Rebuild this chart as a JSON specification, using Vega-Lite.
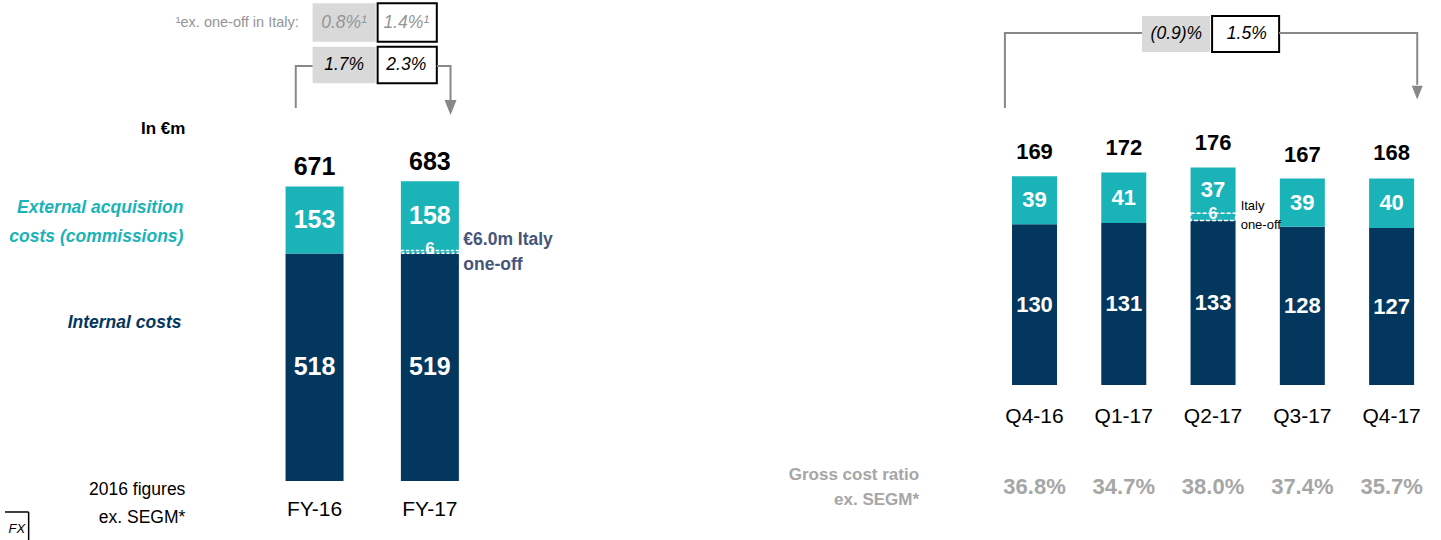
{
  "$schema": "https://vega.github.io/schema/vega-lite/v6.json",
  "padding": 0,
  "spacing": 0,
  "bounds": "flush",
  "background": "white",
  "config": {"view": {"stroke": null}, "font": "Liberation Sans"},
  "datasets": {
    "lbars": [
      {"cat": "FY-16", "u": 1, "seg": "Internal costs", "rank": 1, "value": 518},
      {"cat": "FY-16", "u": 1, "seg": "External acquisition costs", "rank": 3, "value": 153},
      {"cat": "FY-17", "u": 2, "seg": "Internal costs", "rank": 1, "value": 519},
      {"cat": "FY-17", "u": 2, "seg": "Italy one-off", "rank": 2, "value": 6},
      {"cat": "FY-17", "u": 2, "seg": "External acquisition costs", "rank": 3, "value": 158}
    ],
    "ltot": [
      {"cat": "FY-16", "u": 1, "total": 671},
      {"cat": "FY-17", "u": 2, "total": 683}
    ],
    "rbars": [
      {"cat": "Q4-16", "u": 1, "seg": "Internal costs", "rank": 1, "value": 130},
      {"cat": "Q4-16", "u": 1, "seg": "External acquisition costs", "rank": 3, "value": 39},
      {"cat": "Q1-17", "u": 2, "seg": "Internal costs", "rank": 1, "value": 131},
      {"cat": "Q1-17", "u": 2, "seg": "External acquisition costs", "rank": 3, "value": 41},
      {"cat": "Q2-17", "u": 3, "seg": "Internal costs", "rank": 1, "value": 133},
      {"cat": "Q2-17", "u": 3, "seg": "Italy one-off", "rank": 2, "value": 6},
      {"cat": "Q2-17", "u": 3, "seg": "External acquisition costs", "rank": 3, "value": 37},
      {"cat": "Q3-17", "u": 4, "seg": "Internal costs", "rank": 1, "value": 128},
      {"cat": "Q3-17", "u": 4, "seg": "External acquisition costs", "rank": 3, "value": 39},
      {"cat": "Q4-17", "u": 5, "seg": "Internal costs", "rank": 1, "value": 127},
      {"cat": "Q4-17", "u": 5, "seg": "External acquisition costs", "rank": 3, "value": 40}
    ],
    "rtot": [
      {"cat": "Q4-16", "u": 1, "total": 169, "ratio": "36.8%"},
      {"cat": "Q1-17", "u": 2, "total": 172, "ratio": "34.7%"},
      {"cat": "Q2-17", "u": 3, "total": 176, "ratio": "38.0%"},
      {"cat": "Q3-17", "u": 4, "total": 167, "ratio": "37.4%"},
      {"cat": "Q4-17", "u": 5, "total": 168, "ratio": "35.7%"}
    ]
  },
  "hconcat": [
    {
      "width": 702,
      "height": 540,
      "encoding": {
        "x": {"field": "u", "type": "quantitative", "scale": {"domain": [-1.684, 4.316], "nice": false, "zero": false}, "axis": null},
        "y": {"field": "v", "type": "quantitative", "scale": {"domain": [-134.4, 1095.7], "nice": false, "zero": false}, "axis": null}
      },
      "layer": [
        {
          "data": {"name": "lbars"},
          "transform": [{"stack": "value", "groupby": ["cat"], "sort": [{"field": "rank", "order": "ascending"}], "as": ["v", "v_end"]}],
          "mark": {"type": "bar", "width": 58},
          "encoding": {
            "y2": {"field": "v_end"},
            "color": {"field": "seg", "type": "nominal", "scale": {"domain": ["Internal costs", "Italy one-off", "External acquisition costs"], "range": ["#03375E", "#1AB3B8", "#1AB3B8"]}, "legend": null}
          }
        },
        {
          "data": {"name": "lbars"},
          "transform": [
            {"stack": "value", "groupby": ["cat"], "sort": [{"field": "rank", "order": "ascending"}], "as": ["v0", "v1"]},
            {"filter": "datum.seg !== 'Italy one-off'"},
            {"calculate": "(datum.v0 + datum.v1) / 2", "as": "v"}
          ],
          "mark": {"type": "text", "color": "white", "fontWeight": "bold", "fontSize": 25},
          "encoding": {"text": {"field": "value"}}
        },
        {
          "data": {"name": "lbars"},
          "transform": [
            {"stack": "value", "groupby": ["cat"], "sort": [{"field": "rank", "order": "ascending"}], "as": ["v0", "v1"]},
            {"filter": "datum.seg === 'Italy one-off'"},
            {"calculate": "(datum.v0 + datum.v1) / 2", "as": "v"}
          ],
          "mark": {"type": "text", "color": "white", "fontWeight": "bold", "fontSize": 17, "dy": -3},
          "encoding": {"text": {"field": "value"}}
        },
        {
          "data": {"name": "lbars"},
          "transform": [
            {"stack": "value", "groupby": ["cat"], "sort": [{"field": "rank", "order": "ascending"}], "as": ["v", "v_end"]},
            {"filter": "datum.seg === 'Italy one-off'"}
          ],
          "mark": {"type": "bar", "width": 58, "filled": false, "stroke": "white", "strokeWidth": 1.5, "strokeDash": [3, 2]},
          "encoding": {"y2": {"field": "v_end"}}
        },
        {
          "data": {"name": "ltot"},
          "mark": {"type": "text", "color": "black", "fontWeight": "bold", "fontSize": 25, "baseline": "alphabetic", "dy": -11},
          "encoding": {
            "y": {"field": "total", "type": "quantitative", "scale": {"domain": [-134.4, 1095.7], "nice": false, "zero": false}, "axis": null},
            "text": {"field": "total"}
          }
        },
        {
          "data": {"name": "lbars"},
          "transform": [
            {"stack": "value", "groupby": ["cat"], "sort": [{"field": "rank", "order": "ascending"}], "as": ["v", "v_end"]},
            {"filter": "datum.rank === 1"}
          ],
          "mark": {"type": "text", "color": "black", "fontSize": 21, "dy": 29},
          "encoding": {"text": {"field": "cat"}}
        },
        {
          "data": {"values": [{"u": -0.12, "v": 801.8, "label": "In €m"}]},
          "mark": {"type": "text", "align": "right", "fontWeight": "bold", "fontSize": 17, "color": "black"},
          "encoding": {"text": {"field": "label"}}
        },
        {
          "data": {"values": [{"u": -0.137, "v": 621.9, "label": "External acquisition\ncosts (commissions)"}]},
          "mark": {"type": "text", "align": "right", "fontWeight": "bold", "fontStyle": "italic", "fontSize": 17.5, "color": "#1AB3B8", "lineBreak": "\n", "lineHeight": 29},
          "encoding": {"text": {"field": "label"}}
        },
        {
          "data": {"values": [{"u": -0.154, "v": 359.9, "label": "Internal costs"}]},
          "mark": {"type": "text", "align": "right", "fontWeight": "bold", "fontStyle": "italic", "fontSize": 17.5, "color": "#03375E"},
          "encoding": {"text": {"field": "label"}}
        },
        {
          "data": {"values": [{"u": -0.12, "v": -20.5, "label": "2016 figures\nex. SEGM*"}]},
          "mark": {"type": "text", "align": "right", "fontSize": 17.5, "color": "black", "lineBreak": "\n", "lineHeight": 28},
          "encoding": {"text": {"field": "label"}}
        },
        {
          "data": {"values": [{"u": 2.29, "v": 549.0, "label": "€6.0m Italy\none-off"}]},
          "mark": {"type": "text", "align": "left", "fontWeight": "bold", "fontSize": 17.5, "color": "#46557A", "lineBreak": "\n", "lineHeight": 25},
          "encoding": {"text": {"field": "label"}}
        },
        {
          "data": {"values": [
            {"u": 0.983, "u2": 1.53, "v": 1000.7, "v2": 1088.2},
            {"u": 0.983, "u2": 1.53, "v": 905.9, "v2": 989.3}
          ]},
          "mark": {"type": "rect", "color": "#D9D9D9"},
          "encoding": {"x2": {"field": "u2"}, "y2": {"field": "v2"}}
        },
        {
          "data": {"values": [
            {"u": 1.547, "u2": 2.06, "v": 1000.7, "v2": 1088.2},
            {"u": 1.547, "u2": 2.06, "v": 905.9, "v2": 989.3}
          ]},
          "mark": {"type": "rect", "fill": "white", "stroke": "black", "strokeWidth": 2},
          "encoding": {"x2": {"field": "u2"}, "y2": {"field": "v2"}}
        },
        {
          "data": {"values": [
            {"u": 1.256, "v": 1044.4, "label": "0.8%¹"},
            {"u": 1.795, "v": 1044.4, "label": "1.4%¹"}
          ]},
          "mark": {"type": "text", "fontStyle": "italic", "fontSize": 17.5, "color": "#959595"},
          "encoding": {"text": {"field": "label"}}
        },
        {
          "data": {"values": [{"u": 0.863, "v": 1044.4, "label": "¹ex. one-off in Italy:"}]},
          "mark": {"type": "text", "align": "right", "fontSize": 14.5, "color": "#959595"},
          "encoding": {"text": {"field": "label"}}
        },
        {
          "data": {"values": [
            {"u": 1.256, "v": 947.6, "label": "1.7%"},
            {"u": 1.795, "v": 947.6, "label": "2.3%"}
          ]},
          "mark": {"type": "text", "fontStyle": "italic", "fontSize": 17.5, "color": "black"},
          "encoding": {"text": {"field": "label"}}
        },
        {
          "data": {"values": [
            {"g": "a", "o": 1, "u": 0.837, "v": 849.7},
            {"g": "a", "o": 2, "u": 0.837, "v": 945.3},
            {"g": "a", "o": 3, "u": 0.983, "v": 945.3},
            {"g": "b", "o": 1, "u": 2.06, "v": 945.3},
            {"g": "b", "o": 2, "u": 2.179, "v": 945.3},
            {"g": "b", "o": 3, "u": 2.179, "v": 862}
          ]},
          "mark": {"type": "line", "color": "#888888", "strokeWidth": 2},
          "encoding": {"detail": {"field": "g"}, "order": {"field": "o"}}
        },
        {
          "data": {"values": [{"u": 2.179, "v": 850.8}]},
          "mark": {"type": "point", "shape": "M-1,-1.25L1,-1.25L0,1.25Z", "filled": true, "color": "#888888", "size": 144, "opacity": 1}
        },
        {
          "data": {"values": [
            {"u": -1.684, "u2": -1.479, "v": -70.6, "v2": -70.6},
            {"u": -1.479, "u2": -1.479, "v": -70.6, "v2": -134.4}
          ]},
          "mark": {"type": "rule", "color": "black", "strokeWidth": 1.5},
          "encoding": {"x2": {"field": "u2"}, "y2": {"field": "v2"}}
        },
        {
          "data": {"values": [{"u": -1.581, "v": -109.3, "label": "FX"}]},
          "mark": {"type": "text", "fontStyle": "italic", "fontSize": 13, "color": "black"},
          "encoding": {"text": {"field": "label"}}
        }
      ]
    },
    {
      "width": 739,
      "height": 540,
      "encoding": {
        "x": {"field": "u", "type": "quantitative", "scale": {"domain": [-2.6685, 5.4972], "nice": false, "zero": false}, "axis": null},
        "y": {"field": "v", "type": "quantitative", "scale": {"domain": [-125.4, 311.5], "nice": false, "zero": false}, "axis": null}
      },
      "layer": [
        {
          "data": {"name": "rbars"},
          "transform": [{"stack": "value", "groupby": ["cat"], "sort": [{"field": "rank", "order": "ascending"}], "as": ["v", "v_end"]}],
          "mark": {"type": "bar", "width": 45},
          "encoding": {
            "y2": {"field": "v_end"},
            "color": {"field": "seg", "type": "nominal", "scale": {"domain": ["Internal costs", "Italy one-off", "External acquisition costs"], "range": ["#03375E", "#1AB3B8", "#1AB3B8"]}, "legend": null}
          }
        },
        {
          "data": {"name": "rbars"},
          "transform": [
            {"stack": "value", "groupby": ["cat"], "sort": [{"field": "rank", "order": "ascending"}], "as": ["v0", "v1"]},
            {"filter": "datum.seg !== 'Italy one-off'"},
            {"calculate": "(datum.v0 + datum.v1) / 2", "as": "v"}
          ],
          "mark": {"type": "text", "color": "white", "fontWeight": "bold", "fontSize": 22},
          "encoding": {"text": {"field": "value"}}
        },
        {
          "data": {"name": "rbars"},
          "transform": [
            {"stack": "value", "groupby": ["cat"], "sort": [{"field": "rank", "order": "ascending"}], "as": ["v0", "v1"]},
            {"filter": "datum.seg === 'Italy one-off'"},
            {"calculate": "(datum.v0 + datum.v1) / 2", "as": "v"}
          ],
          "mark": {"type": "text", "color": "white", "fontWeight": "bold", "fontSize": 16, "dy": -3},
          "encoding": {"text": {"field": "value"}}
        },
        {
          "data": {"name": "rbars"},
          "transform": [
            {"stack": "value", "groupby": ["cat"], "sort": [{"field": "rank", "order": "ascending"}], "as": ["v", "v_end"]},
            {"filter": "datum.seg === 'Italy one-off'"}
          ],
          "mark": {"type": "bar", "width": 45, "filled": false, "stroke": "white", "strokeWidth": 1.5, "strokeDash": [4, 2]},
          "encoding": {"y2": {"field": "v_end"}}
        },
        {
          "data": {"name": "rtot"},
          "mark": {"type": "text", "color": "black", "fontWeight": "bold", "fontSize": 22, "baseline": "alphabetic", "dy": -17},
          "encoding": {
            "y": {"field": "total", "type": "quantitative", "scale": {"domain": [-125.4, 311.5], "nice": false, "zero": false}, "axis": null},
            "text": {"field": "total"}
          }
        },
        {
          "data": {"name": "rbars"},
          "transform": [
            {"stack": "value", "groupby": ["cat"], "sort": [{"field": "rank", "order": "ascending"}], "as": ["v", "v_end"]},
            {"filter": "datum.rank === 1"}
          ],
          "mark": {"type": "text", "color": "black", "fontSize": 21, "dy": 32},
          "encoding": {"text": {"field": "cat"}}
        },
        {
          "data": {"name": "rbars"},
          "transform": [
            {"stack": "value", "groupby": ["cat"], "sort": [{"field": "rank", "order": "ascending"}], "as": ["v", "v_end"]},
            {"filter": "datum.rank === 1"},
            {"lookup": "cat", "from": {"data": {"name": "rtot"}, "key": "cat", "fields": ["ratio"]}}
          ],
          "mark": {"type": "text", "color": "#A6A6A6", "fontWeight": "bold", "fontSize": 22, "dy": 102},
          "encoding": {"text": {"field": "ratio"}}
        },
        {
          "data": {"values": [{"u": -0.293, "v": -72.8, "label": "Gross cost ratio\nex. SEGM*"}]},
          "mark": {"type": "text", "align": "right", "fontWeight": "bold", "fontSize": 17, "color": "#A6A6A6", "lineBreak": "\n", "lineHeight": 25},
          "encoding": {"text": {"field": "label"}}
        },
        {
          "data": {"values": [{"u": 3.309, "v": 144.8, "label": "Italy\none-off"}]},
          "mark": {"type": "text", "align": "left", "fontSize": 13, "color": "black", "lineBreak": "\n", "lineHeight": 19},
          "encoding": {"text": {"field": "label"}}
        },
        {
          "data": {"values": [{"u": 2.2045, "u2": 2.967, "v": 269.4, "v2": 298.5}]},
          "mark": {"type": "rect", "color": "#D9D9D9"},
          "encoding": {"x2": {"field": "u2"}, "y2": {"field": "v2"}}
        },
        {
          "data": {"values": [{"u": 2.989, "u2": 3.74, "v": 269.4, "v2": 298.5}]},
          "mark": {"type": "rect", "fill": "white", "stroke": "black", "strokeWidth": 2},
          "encoding": {"x2": {"field": "u2"}, "y2": {"field": "v2"}}
        },
        {
          "data": {"values": [
            {"u": 2.589, "v": 284, "label": "(0.9)%"},
            {"u": 3.378, "v": 284, "label": "1.5%"}
          ]},
          "mark": {"type": "text", "fontStyle": "italic", "fontSize": 17.5, "color": "black"},
          "encoding": {"text": {"field": "label"}}
        },
        {
          "data": {"values": [
            {"g": "a", "o": 1, "u": 0.6685, "v": 224.1},
            {"g": "a", "o": 2, "u": 0.6685, "v": 284.8},
            {"g": "a", "o": 3, "u": 2.2045, "v": 284.8},
            {"g": "b", "o": 1, "u": 3.74, "v": 284.8},
            {"g": "b", "o": 2, "u": 5.287, "v": 284.8},
            {"g": "b", "o": 3, "u": 5.287, "v": 243}
          ]},
          "mark": {"type": "line", "color": "#888888", "strokeWidth": 2},
          "encoding": {"detail": {"field": "g"}, "order": {"field": "o"}}
        },
        {
          "data": {"values": [{"u": 5.287, "v": 236.6}]},
          "mark": {"type": "point", "shape": "M-1,-1.25L1,-1.25L0,1.25Z", "filled": true, "color": "#888888", "size": 121, "opacity": 1}
        }
      ]
    }
  ]
}
